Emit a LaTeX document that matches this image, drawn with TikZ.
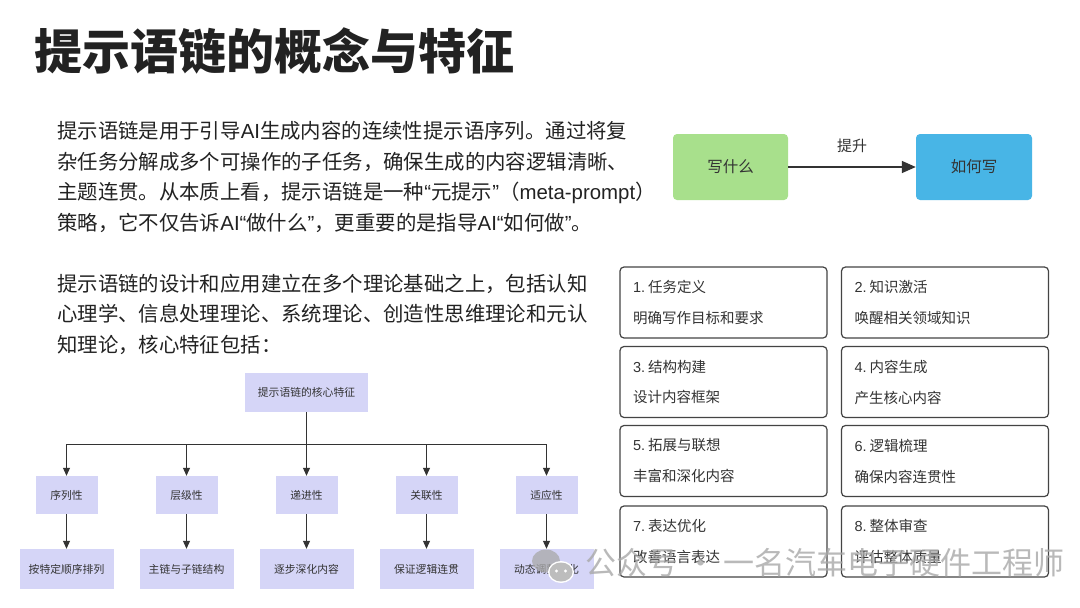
\documentclass[tikz,border=0pt]{standalone}
\usepackage{fontspec}
\setmainfont{Noto Sans CJK SC}
\newfontfamily\latinfont{Liberation Sans}
\newcommand{\lat}[1]{{\latinfont #1}}
\usepackage{xcolor}
\usetikzlibrary{arrows.meta}
\definecolor{inkdark}{HTML}{222222}
\definecolor{textgray}{HTML}{333333}
\definecolor{whatgreen}{HTML}{A8E08C}
\definecolor{howblue}{HTML}{48B5E6}
\definecolor{lavender}{HTML}{D5D5F7}
\definecolor{cardedge}{HTML}{444444}
\definecolor{markgray}{HTML}{A8A8A8}

\begin{document}
\begin{tikzpicture}[x=1pt, y=-1pt,
  bodytext/.style={anchor=west, align=left, inner sep=0pt, text=inkdark, font=\fontsize{20.4}{30.5}\selectfont},
  flowbox/.style={rounded corners=4pt, minimum height=66pt, text=textgray, font=\fontsize{15.5}{18}\selectfont},
  treebox/.style={fill=lavender, text=textgray, inner sep=0pt, minimum height=38pt, font=\fontsize{10.8}{13}\selectfont},
  treearrow/.style={textgray, line width=1pt, -{Triangle[length=8pt, width=7pt]}},
  stepcard/.style={draw=cardedge, line width=1.2pt, rounded corners=4pt, minimum width=207pt, minimum height=71pt, text width=181pt, inner xsep=13pt, align=left, text=textgray, font=\fontsize{14.5}{31}\selectfont}]
  \fill[white] (0,0) rectangle (1080,608);
  \useasboundingbox (0,0) rectangle (1080,608);
  % title
  \node[anchor=west, inner sep=0pt, text=inkdark, font=\fontsize{48}{48}\selectfont\bfseries] (title) at (34,51) {提示语链的概念与特征};
  % paragraphs
  \node[bodytext] (intro) at (57,177) {提示语链是用于引导\lat{AI}生成内容的连续性提示语序列。通过将复\\杂任务分解成多个可操作的子任务，确保生成的内容逻辑清晰、\\主题连贯。从本质上看，提示语链是一种\lat{“}元提示\lat{”}（\lat{meta-prompt}）\\策略，它不仅告诉\lat{AI“}做什么\lat{”}，更重要的是指导\lat{AI“}如何做\lat{”}。};
  \node[bodytext] (theory) at (57,314) {提示语链的设计和应用建立在多个理论基础之上，包括认知\\心理学、信息处理理论、系统理论、创造性思维理论和元认\\知理论，核心特征包括：};
  % what -> how
  \node[flowbox, fill=whatgreen, minimum width=115pt] (what) at (730.5,167) {写什么};
  \node[flowbox, fill=howblue, minimum width=116pt] (how) at (974,167) {如何写};
  \draw[textgray, line width=1.5pt, -{Triangle[length=14pt, width=12pt]}] (what) -- (how) node[midway, above=10pt, font=\fontsize{15}{18}\selectfont] (lift) {提升};
  % feature tree
  \node[treebox, minimum width=123pt, minimum height=39pt] (root) at (306.5,392.5) {提示语链的核心特征};
  \coordinate (bus) at (306.5,444);
  \node[treebox, minimum width=62pt] (seq) at (66.5,495) {序列性};
  \node[treebox, minimum width=62pt] (lvl) at (186.5,495) {层级性};
  \node[treebox, minimum width=62pt] (prog) at (306.5,495) {递进性};
  \node[treebox, minimum width=62pt] (rel) at (426.5,495) {关联性};
  \node[treebox, minimum width=62pt] (adapt) at (546.5,495) {适应性};
  \node[treebox, minimum width=94pt, minimum height=40pt] (seqd) at (66.5,569) {按特定顺序排列};
  \node[treebox, minimum width=94pt, minimum height=40pt] (lvld) at (186.5,569) {主链与子链结构};
  \node[treebox, minimum width=94pt, minimum height=40pt] (progd) at (306.5,569) {逐步深化内容};
  \node[treebox, minimum width=94pt, minimum height=40pt] (reld) at (426.5,569) {保证逻辑连贯};
  \node[treebox, minimum width=94pt, minimum height=40pt] (adaptd) at (546.5,569) {动态调整优化};
  \draw[treearrow] (root.south) -- (bus) -| (seq.north);
  \draw[treearrow] (root.south) -- (bus) -| (lvl.north);
  \draw[treearrow] (root.south) -- (prog.north);
  \draw[treearrow] (root.south) -- (bus) -| (rel.north);
  \draw[treearrow] (root.south) -- (bus) -| (adapt.north);
  \draw[treearrow] (seq) -- (seqd);
  \draw[treearrow] (lvl) -- (lvld);
  \draw[treearrow] (prog) -- (progd);
  \draw[treearrow] (rel) -- (reld);
  \draw[treearrow] (adapt) -- (adaptd);
  % step cards
  \node[stepcard] (define) at (723.5,302.5) {\lat{1.}\hspace{3pt}任务定义\\明确写作目标和要求};
  \node[stepcard] (activate) at (945,302.5) {\lat{2.}\hspace{3pt}知识激活\\唤醒相关领域知识};
  \node[stepcard] (build) at (723.5,382) {\lat{3.}\hspace{3pt}结构构建\\设计内容框架};
  \node[stepcard] (generate) at (945,382) {\lat{4.}\hspace{3pt}内容生成\\产生核心内容};
  \node[stepcard] (expand) at (723.5,461) {\lat{5.}\hspace{3pt}拓展与联想\\丰富和深化内容};
  \node[stepcard] (logic) at (945,461) {\lat{6.}\hspace{3pt}逻辑梳理\\确保内容连贯性};
  \node[stepcard] (polish) at (723.5,541.5) {\lat{7.}\hspace{3pt}表达优化\\改善语言表达};
  \node[stepcard] (review) at (945,541.5) {\lat{8.}\hspace{3pt}整体审查\\评估整体质量};
  % watermark
  \fill[markgray, opacity=0.75] (546,561) ellipse [x radius=14pt, y radius=11.5pt];
  \fill[white] (561,572) ellipse [x radius=13pt, y radius=11pt];
  \fill[markgray, opacity=0.75] (561,572) ellipse [x radius=11.5pt, y radius=9.5pt];
  \fill[white] (556.5,571) circle (1.6pt) (565.5,571) circle (1.6pt);
  \node[anchor=west, inner sep=0pt, text=markgray, opacity=0.8, font=\fontsize{31}{31}\selectfont] (mark) at (585,563) {公众号 · 一名汽车电子硬件工程师};
\end{tikzpicture}
\end{document}
